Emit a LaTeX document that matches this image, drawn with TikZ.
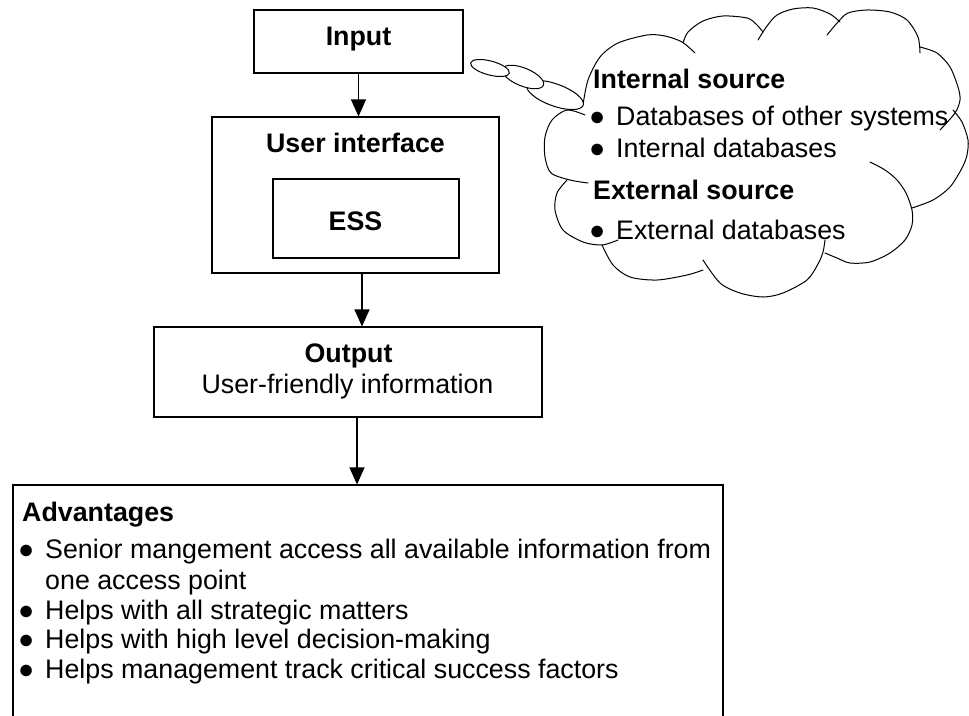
\documentclass[tikz,border=0pt]{standalone}
\usepackage{fontspec}
\setmainfont{Liberation Sans}
\usetikzlibrary{arrows.meta}
\newcommand\bul{\makebox[27pt][l]{●}}
\begin{document}
\begin{tikzpicture}[x=1pt,y=-1pt,
  box/.style={draw, line width=1.1pt, inner sep=0pt},
  txt/.style={inner sep=0pt, font=\fontsize{26.8}{30}\selectfont},
  hd/.style={inner sep=0pt, font=\fontsize{26.8}{30}\selectfont\bfseries},
  conn/.style={line width=1.1pt, -{Triangle[length=17pt,width=15pt]}},
  cl/.style={line width=1pt, line join=round, line cap=round},
  bubble/.style={line width=1pt, fill=white},
]
\useasboundingbox (0,0) rectangle (969,715);
\clip (0,0) rectangle (969,715);

% main boxes
\node[box, minimum width=209pt, minimum height=63pt] (in) at (358.5,41.5) {};
\node[hd, anchor=base] (intxt) at (358.5,45) {Input};
\node[box, minimum width=287pt, minimum height=156pt] (ui) at (355.5,195) {};
\node[hd, anchor=base] (uitxt) at (355.5,152) {User interface};
\node[box, minimum width=186pt, minimum height=79pt] (ess) at (366,218.5) {};
\node[hd, anchor=base] (esstxt) at (355.5,230) {ESS};
\node[box, minimum width=388pt, minimum height=90pt] (out) at (348,372) {};
\node[hd, anchor=base] (outtxt) at (348.5,362) {Output};
\node[txt, anchor=base] (outsub) at (347.5,393) {User-friendly information};
\node[box, minimum width=710pt, minimum height=260pt] (adv) at (368,615) {};

% advantages text
\node[hd, anchor=base west] (advh) at (22,521) {Advantages};
\node[txt, anchor=base west] (a1) at (18,558) {\bul Senior mangement access all available information from};
\node[txt, anchor=base west] (a1b) at (45,589) {one access point};
\node[txt, anchor=base west] (a2) at (18,619) {\bul Helps with all strategic matters};
\node[txt, anchor=base west] (a3) at (18,648) {\bul Helps with high level decision-making};
\node[txt, anchor=base west] (a4) at (18,678) {\bul Helps management track critical success factors};

% connectors
\draw[conn] (in.south) -- (in.south |- ui.north);
\draw[conn] ([xshift=6.5pt]ui.south) -- ([xshift=6.5pt]ui.south |- out.north);
\draw[conn] ([xshift=9pt]out.south) -- ([xshift=9pt]out.south |- adv.north);

% cloud outline
\draw[cl] plot[smooth] coordinates {(583,105) (588,80) (600,57) (618,43) (647,35) (665,36) (682,42) (695,53)};
\draw[cl] plot[smooth] coordinates {(683,43) (688,32) (703,21) (723,16) (747,18) (756,24) (763,32)};
\draw[cl] plot[smooth] coordinates {(758,40) (767,26) (777,15) (793,9) (813,8) (830,14) (840,22)};
\draw[cl] plot[smooth] coordinates {(827,35) (838,22) (848,13) (867,10) (890,12) (907,20) (918,37) (920,53)};
\draw[cl] plot[smooth] coordinates {(920,47) (937,53) (950,67) (958,87) (960,100) (955,113) (940,130)};
\draw[cl] plot[smooth] coordinates {(953,110) (962,122) (968,140) (967,155) (962,168) (950,187) (933,200) (912,208)};
\draw[cl] plot[smooth] coordinates {(870,162) (885,170) (897,180) (906,193) (912,210) (912,225) (905,240) (890,253) (870,262) (850,263) (837,258) (825,253)};
\draw[cl] plot[smooth] coordinates {(825,240) (823,252) (818,264) (807,280) (783,293) (763,297) (740,293) (720,283) (703,260)};
\draw[cl] plot[smooth] coordinates {(703,270) (687,275) (657,280) (630,277) (613,265) (602,245)};
\draw[cl] plot[smooth] coordinates {(567,180) (557,193) (555,210) (563,230) (583,242) (602,245) (618,240)};
\draw[cl] plot[smooth] coordinates {(585,115) (567,110) (552,120) (545,137) (545,157) (551,173) (570,180) (588,183)};

% thought bubbles
\draw[bubble, rotate around={-20:(555,95)}] (555,95) ellipse [x radius=30, y radius=11];
\draw[bubble, rotate around={-22:(523,77)}] (523,77) ellipse [x radius=22, y radius=9];
\draw[bubble, rotate around={-15:(490,68)}] (490,68) ellipse [x radius=20, y radius=7];

% cloud text
\node[hd, anchor=base west] (ish) at (593,88) {Internal source};
\node[txt, anchor=base west] (c1) at (589,125) {\bul Databases of other systems};
\node[txt, anchor=base west] (c2) at (589,157) {\bul Internal databases};
\node[hd, anchor=base west] (esh) at (593,199) {External source};
\node[txt, anchor=base west] (c3) at (589,239) {\bul External databases};
\end{tikzpicture}
\end{document}
